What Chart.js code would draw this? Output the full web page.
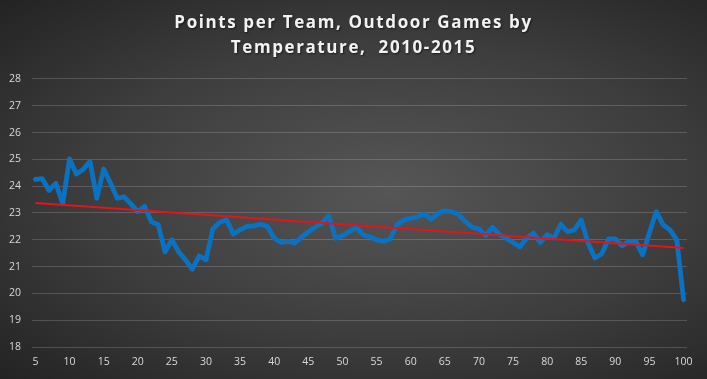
<!DOCTYPE html>
<html>
<head>
<meta charset="utf-8">
<script src="https://cdn.jsdelivr.net/npm/chart.js@4/dist/chart.umd.min.js"></script>
<style>
html,body{margin:0;padding:0;}
body{width:707px;height:379px;overflow:hidden;
background:radial-gradient(ellipse farthest-corner at 55% 50%, #565656 0%, #3d3d3d 55%, #232323 100%);}
#c{display:block;}
</style>
</head>
<body>
<canvas id="c" width="707" height="379"></canvas>
<script>
const titleLines = ["Points per Team, Outdoor Games by", "Temperature,  2010-2015"];
const temperatures = [5,6,7,8,9,10,11,12,13,14,15,16,17,18,19,20,21,22,23,24,25,26,27,28,29,30,
31,32,33,34,35,36,37,38,39,40,41,42,43,44,45,46,47,48,49,50,51,52,53,54,55,56,57,58,59,60,
61,62,63,64,65,66,67,68,69,70,71,72,73,74,75,76,77,78,79,80,81,82,83,84,85,86,87,88,89,90,
91,92,93,94,95,96,97,98,99,100];
const pointsPerTeam = [24.25,24.28,23.84,24.11,23.35,25.02,24.45,24.62,24.93,23.55,24.64,24.12,23.55,23.6,23.34,23.05,23.25,22.67,22.56,21.55,22.0,21.55,21.25,20.9,21.4,21.25,
22.4,22.65,22.75,22.22,22.37,22.5,22.52,22.58,22.5,22.06,21.9,21.94,21.88,22.1,22.3,22.47,22.62,22.9,22.06,22.15,22.3,22.47,22.19,22.12,22.0,21.94,22.03,22.56,22.74,22.8,
22.86,22.97,22.77,22.98,23.08,23.05,22.95,22.68,22.47,22.4,22.16,22.47,22.19,22.06,21.9,21.73,22.06,22.25,21.9,22.19,22.06,22.58,22.3,22.37,22.74,21.88,21.32,21.47,22.03,22.03,
21.78,21.94,21.94,21.44,22.27,23.05,22.56,22.37,22.0,19.76];
const trendStart = 23.37;
const trendEnd = 21.69;
const yTicks = [18,19,20,21,22,23,24,25,26,27,28];

const trend = temperatures.map((t,i)=> i===0 ? trendStart : (i===temperatures.length-1 ? trendEnd : null));

const titleSpacing = {
  id:'titleSpacing',
  afterLayout(chart){
    const tb = chart.titleBlock;
    if (tb && !tb._spaced){
      const orig = tb.draw.bind(tb);
      tb.draw = function(){
        const ctx = chart.ctx;
        ctx.save();
        ctx.translate(10, 0);
        ctx.letterSpacing = '1.6px';
        ctx.shadowColor = 'rgba(0,0,0,0.55)';
        ctx.shadowBlur = 2;
        ctx.shadowOffsetX = 1;
        ctx.shadowOffsetY = 1;
        orig();
        ctx.restore();
        ctx.letterSpacing = '0px';
      };
      tb._spaced = true;
    }
  }
};

new Chart(document.getElementById('c'), {
  type: 'line',
  data: {
    labels: temperatures,
    datasets: [
      {label:'Points', data: pointsPerTeam, borderColor:'#0b72c2', borderWidth:4.8,
       pointRadius:0, tension:0, borderJoinStyle:'round', borderCapStyle:'round', order:1},
      {label:'Trend', data: trend, borderColor:'#e3141c', borderWidth:2,
       pointRadius:0, spanGaps:true, order:0}
    ]
  },
  plugins:[titleSpacing],
  options: {
    responsive:false, animation:false, devicePixelRatio:1,
    layout:{padding:{left:0,right:20,top:0,bottom:0}},
    plugins:{
      legend:{display:false}, tooltip:{enabled:false},
      title:{display:true, text:titleLines, color:'#f2f2f2',
        font:{family:'"Open Sans", sans-serif', size:17, weight:'bold', lineHeight:1.47},
        padding:{top:11,bottom:18}}
    },
    scales:{
      x:{type:'category', offset:true,
        grid:{display:false, drawTicks:false}, border:{display:false},
        ticks:{autoSkip:false, maxRotation:0, padding:9, color:'#d9d9d9',
          font:{family:'"Open Sans", sans-serif', size:10.5},
          callback:function(v){const t=temperatures[v]; return (t%5===0)? String(t):'';}},
        afterFit:function(s){s.height=32;}
      },
      y:{min:18, max:28,
        afterBuildTicks:function(s){s.ticks=yTicks.map(v=>({value:v}));},
        grid:{color:'rgba(255,255,255,0.17)', lineWidth:1, drawTicks:false}, border:{display:false},
        ticks:{padding:11, color:'#d9d9d9', font:{family:'"Open Sans", sans-serif', size:10.5}},
        afterFit:function(s){s.width=32;}
      }
    }
  }
});
</script>
</body>
</html>
